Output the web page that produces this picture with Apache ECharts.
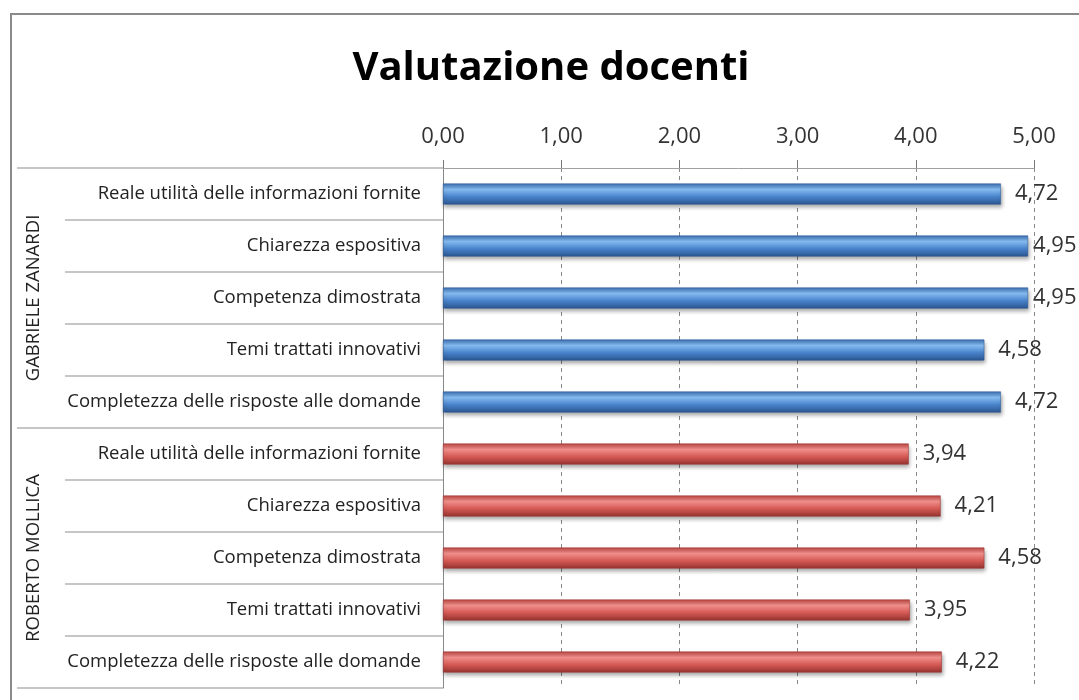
<!DOCTYPE html>
<html>
<head>
<meta charset="utf-8">
<title>Valutazione docenti</title>
<script src="https://cdn.jsdelivr.net/npm/echarts@6/dist/echarts.min.js"></script>
<style>
  html, body { margin: 0; padding: 0; background: #fff; }
  #chart { width: 1079px; height: 700px; }
</style>
</head>
<body>
<div id="chart"></div>
<script>
// categorie (stesse voci per entrambi i docenti)
const voci = [
  'Reale utilità delle informazioni fornite',
  'Chiarezza espositiva',
  'Competenza dimostrata',
  'Temi trattati innovativi',
  'Completezza delle risposte alle domande'
];
const docenti = ['GABRIELE ZANARDI', 'ROBERTO MOLLICA'];
const valoriZanardi = [4.72, 4.95, 4.95, 4.58, 4.72];
const valoriMollica = [3.94, 4.21, 4.58, 3.95, 4.22];
const tickValori = [0, 1, 2, 3, 4, 5];

const FONT = 'Open Sans';

// righe dell'asse: prima un docente poi l'altro
const righe = voci.concat(voci);

// le etichette vicino al bordo destro vengono avvicinate alla barra (come fa Excel)
const punto = v => (v === '-' ? '-' : (v > 4.9 ? { value: v, label: { distance: 5 } } : v));
const serieBlu = valoriZanardi.concat(voci.map(() => '-')).map(punto);
const serieRossa = voci.map(() => '-').concat(valoriMollica).map(punto);

const fmt = v => Number(v).toFixed(2).replace('.', ',');

function barra(top, light, mid, bottom) {
  return {
    color: new echarts.graphic.LinearGradient(0, 0, 0, 1, [
      { offset: 0, color: top },
      { offset: 0.28, color: light },
      { offset: 0.62, color: mid },
      { offset: 1, color: bottom }
    ]),
    borderColor: bottom,
    borderWidth: 0.5,
    shadowColor: 'rgba(0,0,0,0.35)',
    shadowBlur: 4,
    shadowOffsetY: 3,
    shadowOffsetX: 1
  };
}

const labelValore = {
  show: true,
  position: 'right',
  distance: 14,
  fontFamily: FONT,
  fontSize: 22,
  color: '#333',
  formatter: p => fmt(p.value)
};

const chart = echarts.init(document.getElementById('chart'));

chart.setOption({
  animation: false,
  title: {
    text: 'Valutazione docenti',
    left: 546,
    textAlign: 'center',
    top: 44,
    textStyle: { fontFamily: FONT, fontSize: 40, fontWeight: 'bold', color: '#000' }
  },
  graphic: [{
    type: 'rect',
    shape: { x: 11, y: 14, width: 1200, height: 800 },
    style: { fill: 'none', stroke: '#8a8a8a', lineWidth: 2 },
    silent: true
  }],
  grid: { left: 443, right: 45, top: 168, bottom: 12 },
  xAxis: {
    type: 'value',
    position: 'top',
    min: tickValori[0],
    max: tickValori[tickValori.length - 1],
    interval: 1,
    axisLine: { show: true, lineStyle: { color: '#a0a0a0', width: 1 } },
    axisTick: { show: true, length: 8, lineStyle: { color: '#777' } },
    axisLabel: { margin: 20, fontFamily: FONT, fontSize: 22, color: '#333', formatter: fmt },
    splitLine: { show: true, lineStyle: { color: '#888', type: [4, 4], width: 1 } }
  },
  yAxis: [{
    type: 'category',
    data: righe,
    inverse: true,
    axisLine: { show: true, lineStyle: { color: '#888', width: 1 } },
    axisTick: { show: true, length: 378, lineStyle: { color: '#b4b4b4', width: 1.5 } },
    axisLabel: { margin: 22, fontFamily: FONT, fontSize: 18.5, color: '#222' },
    splitLine: { show: false }
  }, {
    type: 'category',
    data: docenti,
    inverse: true,
    position: 'left',
    axisLine: { show: false },
    axisTick: { show: true, length: 426, lineStyle: { color: '#b4b4b4', width: 1.5 } },
    axisLabel: { rotate: 90, margin: 400, fontFamily: FONT, fontSize: 18.5, color: '#222' },
    splitLine: { show: false }
  }],
  series: [{
    name: docenti[0],
    type: 'bar',
    stack: 'tot',
    yAxisIndex: 0,
    barWidth: 21,
    data: serieBlu,
    itemStyle: barra('#3a6db0', '#86bdf2', '#4a84cc', '#2a5590'),
    label: labelValore
  }, {
    name: docenti[1],
    type: 'bar',
    stack: 'tot',
    yAxisIndex: 0,
    barWidth: 21,
    data: serieRossa,
    itemStyle: barra('#b8443f', '#f2918d', '#d65a55', '#963330'),
    label: labelValore
  }]
});
</script>
</body>
</html>
